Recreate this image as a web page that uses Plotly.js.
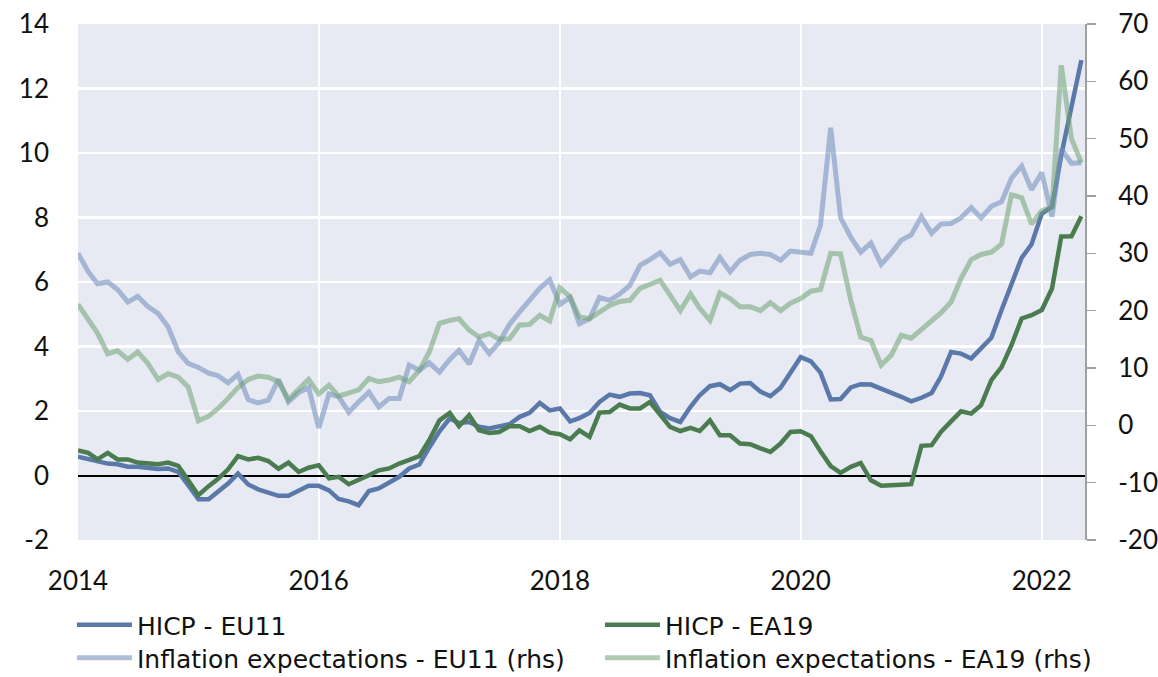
<!DOCTYPE html>
<html>
<head>
<meta charset="utf-8">
<script src="https://cdn.plot.ly/plotly-3.0.1.min.js"></script>
<style>html,body{margin:0;padding:0;background:#fff;}#chart{width:1158px;height:677px;}</style>
</head>
<body>
<div id="chart"></div>
<script>
// Monthly observations, Jan 2014 .. May 2022
var startYear = 2014, startMonth = 1, nMonths = 101;
var months = [];
for (var k = 0; k < nMonths; k++) {
  var m = startMonth - 1 + k;
  var yy = startYear + Math.floor(m / 12), mm = (m % 12) + 1;
  months.push(yy + '-' + (mm < 10 ? '0' : '') + mm + '-01');
}

var seriesNames = ['HICP - EU11', 'HICP - EA19', 'Inflation expectations - EU11 (rhs)', 'Inflation expectations - EA19 (rhs)'];

// Tick labels
var leftTickVals = [-2, 0, 2, 4, 6, 8, 10, 12, 14];
var leftTickText = ['-2', '0', '2', '4', '6', '8', '10', '12', '14'];
var rightTickVals = [-20, -10, 0, 10, 20, 30, 40, 50, 60, 70];
var rightTickText = ['-20', '-10', '0', '10', '20', '30', '40', '50', '60', '70'];

var hicpEU11 = [0.58,0.50,0.45,0.37,0.35,0.27,0.27,0.24,0.20,0.22,0.11,-0.30,-0.74,-0.74,-0.51,-0.25,0.06,-0.28,-0.43,-0.53,
  -0.63,-0.63,-0.46,-0.32,-0.32,-0.46,-0.73,-0.80,-0.92,-0.48,-0.40,-0.23,-0.04,0.22,0.34,0.87,1.37,1.77,1.63,1.66,
  1.51,1.46,1.53,1.59,1.82,1.94,2.25,2.02,2.08,1.68,1.78,1.94,2.28,2.51,2.44,2.54,2.56,2.49,1.97,1.78,
  1.66,2.13,2.49,2.77,2.83,2.65,2.85,2.87,2.60,2.46,2.72,3.16,3.67,3.54,3.19,2.36,2.37,2.73,2.83,2.82,
  2.70,2.57,2.44,2.30,2.41,2.56,3.06,3.83,3.78,3.63,3.94,4.27,5.13,5.97,6.75,7.17,8.12,8.33,9.93,11.43,12.88];

var hicpEA19 = [0.78,0.70,0.50,0.70,0.50,0.50,0.40,0.38,0.35,0.40,0.30,-0.15,-0.61,-0.33,-0.11,0.19,0.60,0.50,0.55,0.45,
  0.21,0.40,0.11,0.24,0.32,-0.09,-0.04,-0.27,-0.15,0.01,0.16,0.22,0.37,0.50,0.60,1.10,1.71,1.94,1.53,1.87,
  1.40,1.32,1.35,1.53,1.53,1.38,1.51,1.33,1.28,1.12,1.40,1.20,1.95,1.97,2.20,2.08,2.08,2.28,1.90,1.51,
  1.38,1.48,1.38,1.71,1.25,1.25,0.99,0.97,0.84,0.73,0.99,1.35,1.37,1.22,0.75,0.29,0.08,0.27,0.39,-0.15,
  -0.32,-0.29,-0.29,-0.27,0.92,0.94,1.35,1.68,1.99,1.92,2.18,2.96,3.36,4.04,4.87,4.97,5.13,5.80,7.41,7.42,8.04];

var expEU11 = [30.0,26.8,24.7,25.0,23.7,21.5,22.5,20.7,19.5,17.2,12.8,10.8,10.1,9.1,8.7,7.4,8.9,4.5,3.9,4.4,
  8.0,4.1,5.7,6.6,-0.45,5.5,5.0,2.3,4.1,5.8,3.2,4.7,4.7,10.5,9.6,10.9,9.3,11.5,13.1,10.7,
  14.8,12.5,14.5,17.6,19.8,21.9,23.9,25.4,21.1,22.3,17.7,18.6,22.3,21.8,22.9,24.4,27.9,28.9,30.1,28.1,
  28.9,25.9,26.9,26.6,29.3,26.8,28.8,29.8,30.0,29.8,28.8,30.4,30.2,30.0,34.9,51.9,36.2,32.8,30.2,31.8,
  28.1,30.0,32.3,33.2,36.4,33.5,35.1,35.2,36.2,38.0,36.2,38.2,39.0,43.1,45.2,41.1,44.1,36.4,48.2,45.7,45.8];

var expEA19 = [21.1,18.6,16.1,12.5,13.0,11.5,12.8,10.8,8.0,9.0,8.4,6.7,0.8,1.6,2.9,4.7,6.6,8.0,8.6,8.4,
  7.6,4.5,6.4,8.0,5.5,7.0,5.1,5.7,6.2,8.2,7.6,7.9,8.4,7.6,9.6,12.8,17.8,18.3,18.6,16.6,
  15.4,16.0,15.0,15.1,17.5,17.6,19.2,18.2,24.0,22.4,18.9,18.6,19.8,20.9,21.6,21.8,23.9,24.6,25.3,22.7,
  20.0,22.9,20.4,18.3,23.1,22.1,20.7,20.7,20.0,21.4,20.0,21.3,22.1,23.4,23.7,30.0,29.9,21.8,15.4,14.8,
  10.5,12.2,15.7,15.2,16.7,18.0,19.6,21.5,25.6,28.9,29.8,30.2,31.6,40.2,39.7,35.1,37.4,38.1,62.8,50.0,45.8];

var colDarkBlue = '#5a78a9';
var colDarkGreen = '#4a7c50';
var colLightBlue = 'rgba(120,146,190,0.6)';
var colLightGreen = 'rgba(110,160,115,0.55)';

var traces = [
  {x: months, y: expEU11, name: seriesNames[2], yaxis: 'y2', type: 'scatter', mode: 'lines',
   line: {color: colLightBlue, width: 5}, legend: 'legend2', legendrank: 1},
  {x: months, y: expEA19, name: seriesNames[3], yaxis: 'y2', type: 'scatter', mode: 'lines',
   line: {color: colLightGreen, width: 5}, legend: 'legend2', legendrank: 2},
  {x: months, y: hicpEU11, name: seriesNames[0], type: 'scatter', mode: 'lines',
   line: {color: colDarkBlue, width: 4.5}, legend: 'legend', legendrank: 1},
  {x: months, y: hicpEA19, name: seriesNames[1], type: 'scatter', mode: 'lines',
   line: {color: colDarkGreen, width: 4.5}, legend: 'legend', legendrank: 2},
  // empty helper trace so the right-hand label axis is laid out
  {x: [], y: [], yaxis: 'y3', type: 'scatter', mode: 'lines', showlegend: false, hoverinfo: 'skip'}
];

var tickFont = {family: 'Lato, "Open Sans", sans-serif', size: 26, color: '#111'};
var legendFont = {family: '"DejaVu Sans", "Open Sans", sans-serif', size: 25, color: '#111'};

function legendRow(yCenter) {
  return {
    orientation: 'h',
    x: -0.006, y: yCenter, xanchor: 'left', yanchor: 'middle',
    entrywidth: 458, entrywidthmode: 'pixels',
    itemwidth: 55, tracegroupgap: 0,
    font: legendFont, bgcolor: 'rgba(0,0,0,0)'
  };
}

var layout = {
  width: 1158, height: 677,
  margin: {l: 78, r: 73, t: 24, b: 137, autoexpand: false},
  paper_bgcolor: '#ffffff',
  plot_bgcolor: '#e7eaf2',
  showlegend: true,
  xaxis: {
    type: 'date', range: ['2014-01-01', '2022-05-12'],
    tick0: '2014-01-01', dtick: 'M24', tickformat: '%Y',
    showgrid: true, gridcolor: '#ffffff', gridwidth: 2,
    zeroline: false, showline: false, ticks: '',
    tickfont: tickFont, ticklabelstandoff: 23
  },
  yaxis: {
    range: [-2, 14], tickmode: 'array', tickvals: leftTickVals, ticktext: leftTickText,
    showgrid: true, gridcolor: '#ffffff', gridwidth: 2.5,
    zeroline: true, zerolinecolor: '#000000', zerolinewidth: 2,
    showline: false, ticks: '',
    tickfont: tickFont, ticklabelstandoff: 28
  },
  yaxis2: {
    overlaying: 'y', side: 'right', range: [-20, 70], tickmode: 'array', tickvals: rightTickVals,
    showgrid: false, zeroline: false,
    showline: true, linecolor: '#a0a0a0', linewidth: 1.5,
    ticks: 'outside', ticklen: 9, tickwidth: 1.5, tickcolor: '#a0a0a0',
    showticklabels: false
  },
  yaxis3: {
    overlaying: 'y', side: 'right', range: [-20, 70], tickmode: 'array',
    tickvals: rightTickVals, ticktext: rightTickText,
    showgrid: false, zeroline: false, showline: false,
    ticks: 'outside', ticklen: 27, tickwidth: 1, tickcolor: 'rgba(0,0,0,0)',
    tickfont: tickFont
  },
  legend: legendRow((540 - 625) / 516),
  legend2: legendRow((540 - 658) / 516)
};

Plotly.newPlot('chart', traces, layout, {displayModeBar: false, staticPlot: true});
</script>
</body>
</html>
